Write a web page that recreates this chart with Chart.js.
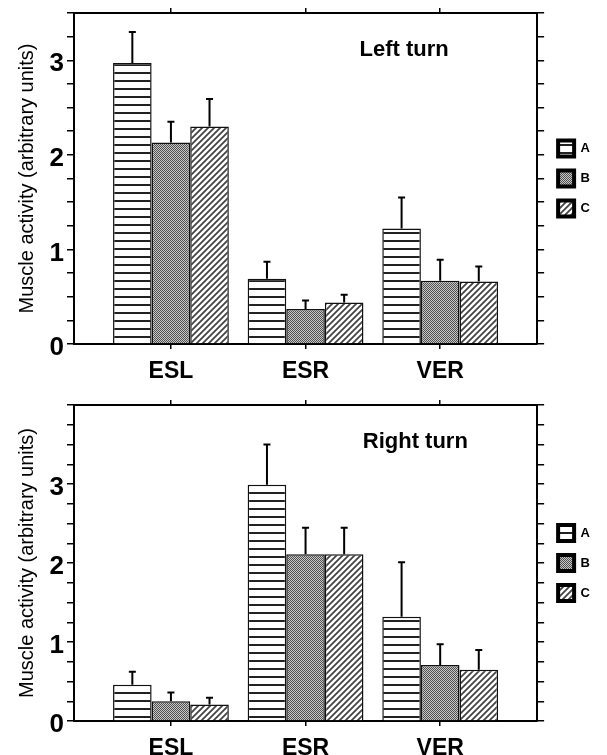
<!DOCTYPE html>
<html>
<head>
<meta charset="utf-8">
<script src="https://cdn.jsdelivr.net/npm/chart.js@4"></script>
<style>
  html, body { margin: 0; padding: 0; background: #fff; }
  .panel { position: relative; width: 607px; }
  #top { height: 388px; }
  #bottom { height: 367px; }
</style>
</head>
<body>
<div class="panel" id="top"><canvas id="left-turn"></canvas></div>
<div class="panel" id="bottom"><canvas id="right-turn"></canvas></div>
<script>
var categories = ["ESL", "ESR", "VER"];
var groups = ["A", "B", "C"];
var yTickLabels = [0, 1, 2, 3];

// Left turn: means and upper error (SE)
var leftA = [2.97, 0.69, 1.22];
var leftB = [2.13, 0.37, 0.67];
var leftC = [2.30, 0.44, 0.66];
var leftAErr = [0.33, 0.18, 0.33];
var leftBErr = [0.22, 0.09, 0.22];
var leftCErr = [0.29, 0.08, 0.16];

// Right turn
var rightA = [0.46, 2.99, 1.32];
var rightB = [0.25, 2.11, 0.71];
var rightC = [0.21, 2.11, 0.65];
var rightAErr = [0.165, 0.51, 0.69];
var rightBErr = [0.11, 0.335, 0.26];
var rightCErr = [0.085, 0.335, 0.25];

Chart.defaults.font.family = "'Liberation Sans', Arial, sans-serif";
Chart.defaults.color = "#000";

function makePattern(ctx, kind) {
  var c = document.createElement("canvas");
  var g = c.getContext("2d");
  if (kind === "stripes") {
    c.width = 8; c.height = 8;
    g.fillStyle = "#fff"; g.fillRect(0, 0, 8, 8);
    g.fillStyle = "#222"; g.fillRect(0, 0, 8, 2);
  } else if (kind === "dots") {
    c.width = 2; c.height = 2;
    g.fillStyle = "#c8c8c8"; g.fillRect(0, 0, 2, 2);
    g.fillStyle = "#505050"; g.fillRect(0, 0, 1, 1); g.fillRect(1, 1, 1, 1);
  } else {
    c.width = 6; c.height = 6;
    g.fillStyle = "#fff"; g.fillRect(0, 0, 6, 6);
    g.strokeStyle = "#444"; g.lineWidth = 1.8;
    g.beginPath();
    g.moveTo(-1, 7); g.lineTo(7, -1);
    g.moveTo(-1, 1); g.lineTo(1, -1);
    g.moveTo(5, 7); g.lineTo(7, 5);
    g.stroke();
  }
  return ctx.createPattern(c, "repeat");
}

// upward error bars drawn from each bar top
var errorBars = {
  id: "errorBars",
  afterDatasetsDraw: function(chart) {
    var ctx = chart.ctx, yScale = chart.scales.y;
    ctx.save();
    ctx.strokeStyle = "#000";
    ctx.lineWidth = 2;
    chart.data.datasets.forEach(function(ds, i) {
      chart.getDatasetMeta(i).data.forEach(function(bar, j) {
        var top = yScale.getPixelForValue(ds.data[j].y + ds.errors[j]);
        ctx.beginPath();
        ctx.moveTo(bar.x, bar.y); ctx.lineTo(bar.x, top);
        ctx.moveTo(bar.x - 3.5, top); ctx.lineTo(bar.x + 3.5, top);
        ctx.stroke();
      });
    });
    ctx.restore();
  }
};

// "Left turn" / "Right turn" inside the plot
var panelTitle = {
  id: "panelTitle",
  afterDraw: function(chart, args, opts) {
    var a = chart.chartArea, ctx = chart.ctx;
    ctx.save();
    ctx.font = "bold 22px 'Liberation Sans', Arial, sans-serif";
    ctx.fillStyle = "#000";
    ctx.textAlign = "center";
    ctx.textBaseline = "middle";
    ctx.fillText(opts.text, a.left + a.width * opts.x, a.top + opts.dy);
    ctx.restore();
  }
};

function frameGrid(len) {
  return { drawOnChartArea: false, offset: false, tickLength: len, color: "#000", lineWidth: 1.5 };
}
var frameBorder = { color: "#000", width: 2 };
function categoryTicks(s) {
  s.ticks = categories.map(function(c, i) { return { value: i }; });
}

function makeChart(id, series, errors, yMax, title, titleX, pad, xHeight) {
  var ctx = document.getElementById(id).getContext("2d");
  var fills = [makePattern(ctx, "stripes"), makePattern(ctx, "dots"), makePattern(ctx, "hatch")];
  return new Chart(ctx, {
    type: "bar",
    data: {
      datasets: groups.map(function(g, k) {
        return {
          label: g,
          data: series[k].map(function(v, i) { return { x: i, y: v }; }),
          errors: errors[k],
          backgroundColor: fills[k],
          borderColor: "#111",
          borderWidth: 1.5,
          categoryPercentage: 0.86,
          barPercentage: 1.0
        };
      })
    },
    options: {
      responsive: true,
      maintainAspectRatio: false,
      animation: false,
      events: [],
      layout: { padding: pad },
      scales: {
        x: {
          type: "linear", position: "bottom", min: -0.72, max: 2.72, offset: false,
          afterBuildTicks: categoryTicks,
          ticks: {
            autoSkip: false, padding: 9,
            font: { size: 23, weight: "bold" },
            callback: function(v) { return categories[v]; }
          },
          grid: frameGrid(5),
          border: frameBorder,
          afterFit: function(s) { s.height = xHeight; }
        },
        x2: {
          type: "linear", position: "top", min: -0.72, max: 2.72, offset: false,
          afterBuildTicks: categoryTicks,
          ticks: { display: false },
          grid: frameGrid(5),
          border: frameBorder
        },
        y: {
          position: "left", min: 0, max: yMax,
          ticks: {
            stepSize: 0.25, autoSkip: false, padding: 3, labelOffset: 4,
            font: { size: 26, weight: "bold" },
            callback: function(v) { return yTickLabels.indexOf(v) >= 0 ? String(v) : ""; }
          },
          grid: frameGrid(7),
          border: frameBorder,
          title: {
            display: true,
            text: "Muscle activity (arbitrary units)",
            font: { size: 20 },
            padding: { top: 15, bottom: 0 }
          },
          afterFit: function(s) { s.width = 74; s.paddingTop = 0; s.paddingBottom = 0; }
        },
        y2: {
          position: "right", min: 0, max: yMax,
          ticks: { display: false, stepSize: 0.25, autoSkip: false },
          grid: frameGrid(7),
          border: frameBorder
        }
      },
      plugins: {
        tooltip: { enabled: false },
        legend: {
          position: "right",
          fullSize: false,
          labels: {
            boxWidth: 16, boxHeight: 16, padding: 14,
            font: { size: 13, weight: "bold" },
            generateLabels: function(chart) {
              return Chart.defaults.plugins.legend.labels.generateLabels(chart).map(function(item) {
                item.lineWidth = 4;
                item.strokeStyle = "#000";
                return item;
              });
            }
          }
        },
        panelTitle: { text: title, x: titleX, dy: 37 }
      }
    },
    plugins: [errorBars, panelTitle]
  });
}

makeChart("left-turn", [leftA, leftB, leftC], [leftAErr, leftBErr, leftCErr],
  3.5, "Left turn", 0.713, { top: 8, right: 7, left: 0, bottom: 0 }, 44);
makeChart("right-turn", [rightA, rightB, rightC], [rightAErr, rightBErr, rightCErr],
  4, "Right turn", 0.737, { top: 12, right: 7, left: 0, bottom: 0 }, 34);
</script>
</body>
</html>
